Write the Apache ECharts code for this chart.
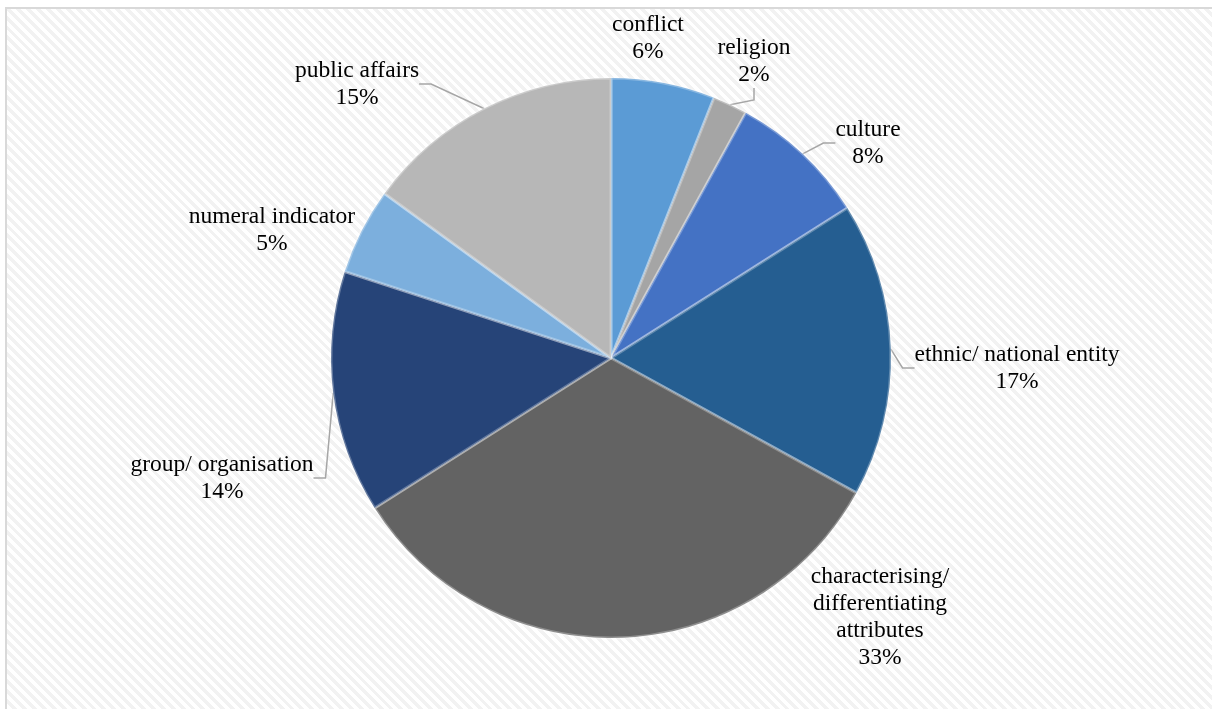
<!DOCTYPE html>
<html>
<head>
<meta charset="utf-8">
<script src="https://cdn.jsdelivr.net/npm/echarts@6/dist/echarts.min.js"></script>
<style>
  html, body { margin: 0; padding: 0; background: #fff; }
  #frame { position: absolute; left: 5px; top: 7px; width: 1212px; height: 709px;
    border-left: 2px solid #d9d9d9; border-top: 2px solid #d9d9d9;
    background: repeating-linear-gradient(45deg, #ffffff 0px, #ffffff 3.5px, #f2f2f2 3.5px, #f2f2f2 7px); }
  #chart { position: absolute; left: 0; top: 0; width: 1212px; height: 709px; }
</style>
</head>
<body>
<div id="frame"></div>
<div id="chart"></div>
<script>
// categories, clockwise from 12 o'clock
const categories = ['conflict', 'religion', 'culture', 'ethnic/ national entity',
  'characterising/\ndifferentiating\nattributes', 'group/ organisation', 'numeral indicator', 'public affairs'];
const shares = [6, 2, 8, 17, 33, 14, 5, 15];
const colors = ['#5b9bd5', '#a5a5a5', '#4472c4', '#255e91', '#636363', '#264478', '#7cafdd', '#b7b7b7'];
// label centres as placed in the original, and which labels keep a leader line
const labelPos = [[648, 38], [754, 61], [868, 143], [1017, 368], [880, 617], [222, 478], [272, 230], [357, 84]];
const leader = [false, true, true, true, false, true, false, true];

const chart = echarts.init(document.getElementById('chart'), null, { renderer: 'canvas' });
chart.setOption({
  backgroundColor: 'transparent',
  animation: false,
  series: [{
    type: 'pie',
    center: [611, 358],
    radius: [0, 280],
    startAngle: 90,
    clockwise: true,
    avoidLabelOverlap: false,
    data: categories.map((c, i) => ({ name: c, value: shares[i],
      itemStyle: { color: colors[i] }, labelLine: { show: leader[i] } })),
    // soft light edge, roughly like the bevel in the original
    itemStyle: { borderColor: 'rgba(255,255,255,0.28)', borderWidth: 3 },
    label: {
      show: true, position: 'outside', formatter: p => p.name + '\n' + p.value + '%',
      fontFamily: '"Liberation Serif", "Times New Roman", serif', fontSize: 23.5,
      color: '#000', lineHeight: 27
    },
    labelLine: { show: true, length: 12, length2: 12, lineStyle: { color: '#a6a6a6', width: 1.5 } },
    labelLayout: p => ({ x: labelPos[p.dataIndex][0], y: labelPos[p.dataIndex][1],
      align: 'center', verticalAlign: 'middle' })
  }]
});
</script>
</body>
</html>
